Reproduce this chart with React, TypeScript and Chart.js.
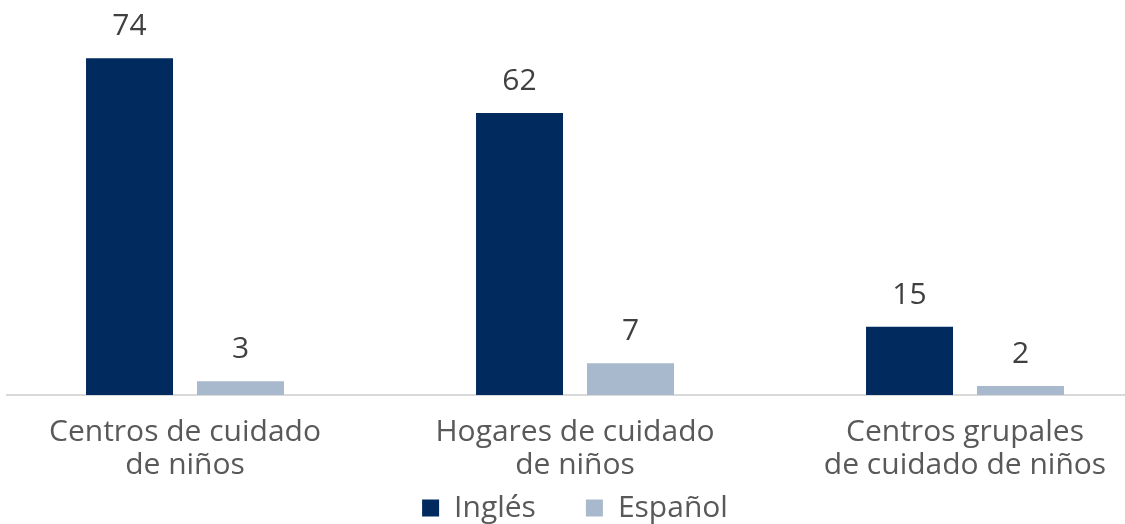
import React, { useEffect, useRef } from "react";
import { Chart, registerables } from "chart.js";

Chart.register(...registerables);

const categories: string[][] = [
  ["Centros de cuidado", "de niños"],
  ["Hogares de cuidado", "de niños"],
  ["Centros grupales", "de cuidado de niños"],
];
const seriesNames = ["Inglés", "Español"];
const ingles = [74, 62, 15];
const espanol = [3, 7, 2];
const colors = ["#012A5F", "#A8B8CD"];
const FONT = "'Open Sans', 'Noto Sans', sans-serif";

const valueLabels = {
  id: "valueLabels",
  afterDatasetsDraw(chart: any) {
    const ctx = chart.ctx;
    ctx.save();
    ctx.font = `500 30px ${FONT}`;
    ctx.fillStyle = "#404040";
    ctx.textAlign = "center";
    ctx.textBaseline = "alphabetic";
    chart.data.datasets.forEach((ds: any, i: number) => {
      const meta = chart.getDatasetMeta(i);
      meta.data.forEach((bar: any, j: number) => {
        ctx.fillText(String(ds.data[j]), bar.x, bar.y - 23);
      });
    });
    ctx.restore();
  },
};

const baseline = {
  id: "baseline",
  beforeDatasetsDraw(chart: any) {
    const ctx = chart.ctx;
    const y = chart.scales.y.getPixelForValue(0);
    ctx.save();
    ctx.strokeStyle = "#D9D9D9";
    ctx.lineWidth = 2;
    ctx.beginPath();
    ctx.moveTo(chart.chartArea.left + 16, y);
    ctx.lineTo(chart.chartArea.right, y);
    ctx.stroke();
    ctx.restore();
  },
};

export default function App() {
  const ref = useRef<HTMLCanvasElement | null>(null);
  useEffect(() => {
    if (!ref.current) return;
    const chart = new Chart(ref.current, {
      type: "bar",
      data: {
        labels: categories,
        datasets: [
          { label: seriesNames[0], data: ingles, backgroundColor: colors[0] },
          { label: seriesNames[1], data: espanol, backgroundColor: colors[1] },
        ],
      },
      options: {
        animation: false,
        responsive: true,
        maintainAspectRatio: false,
        layout: { padding: { top: 31, left: 0, right: 0, bottom: -9 } },
        datasets: {
          bar: { categoryPercentage: 0.569, barPercentage: 0.784 },
        },
        scales: {
          x: {
            grid: { display: false, drawTicks: false },
            border: { display: false },
            ticks: {
              color: "#595959",
              mirror: true,
              padding: -54,
              font: { family: FONT, size: 30, lineHeight: 1.13 },
              maxRotation: 0,
              autoSkip: false,
            },
            afterFit(scale: any) {
              scale.height = 48;
            },
          },
          y: {
            display: false,
            min: 0,
            max: 80,
          },
        },
        plugins: {
          legend: {
            position: "bottom",
            labels: {
              color: "#595959",
              font: { family: FONT, size: 30 },
              boxWidth: 17,
              boxHeight: 17,
              padding: 50,
              useBorderRadius: false,
            },
          },
          tooltip: { enabled: false },
        },
      },
      plugins: [valueLabels, baseline],
    });
    return () => chart.destroy();
  }, []);
  return (
    <div style={{ position: "fixed", left: -10, top: 0, width: 1170, height: 524 }}>
      <canvas ref={ref} />
    </div>
  );
}
